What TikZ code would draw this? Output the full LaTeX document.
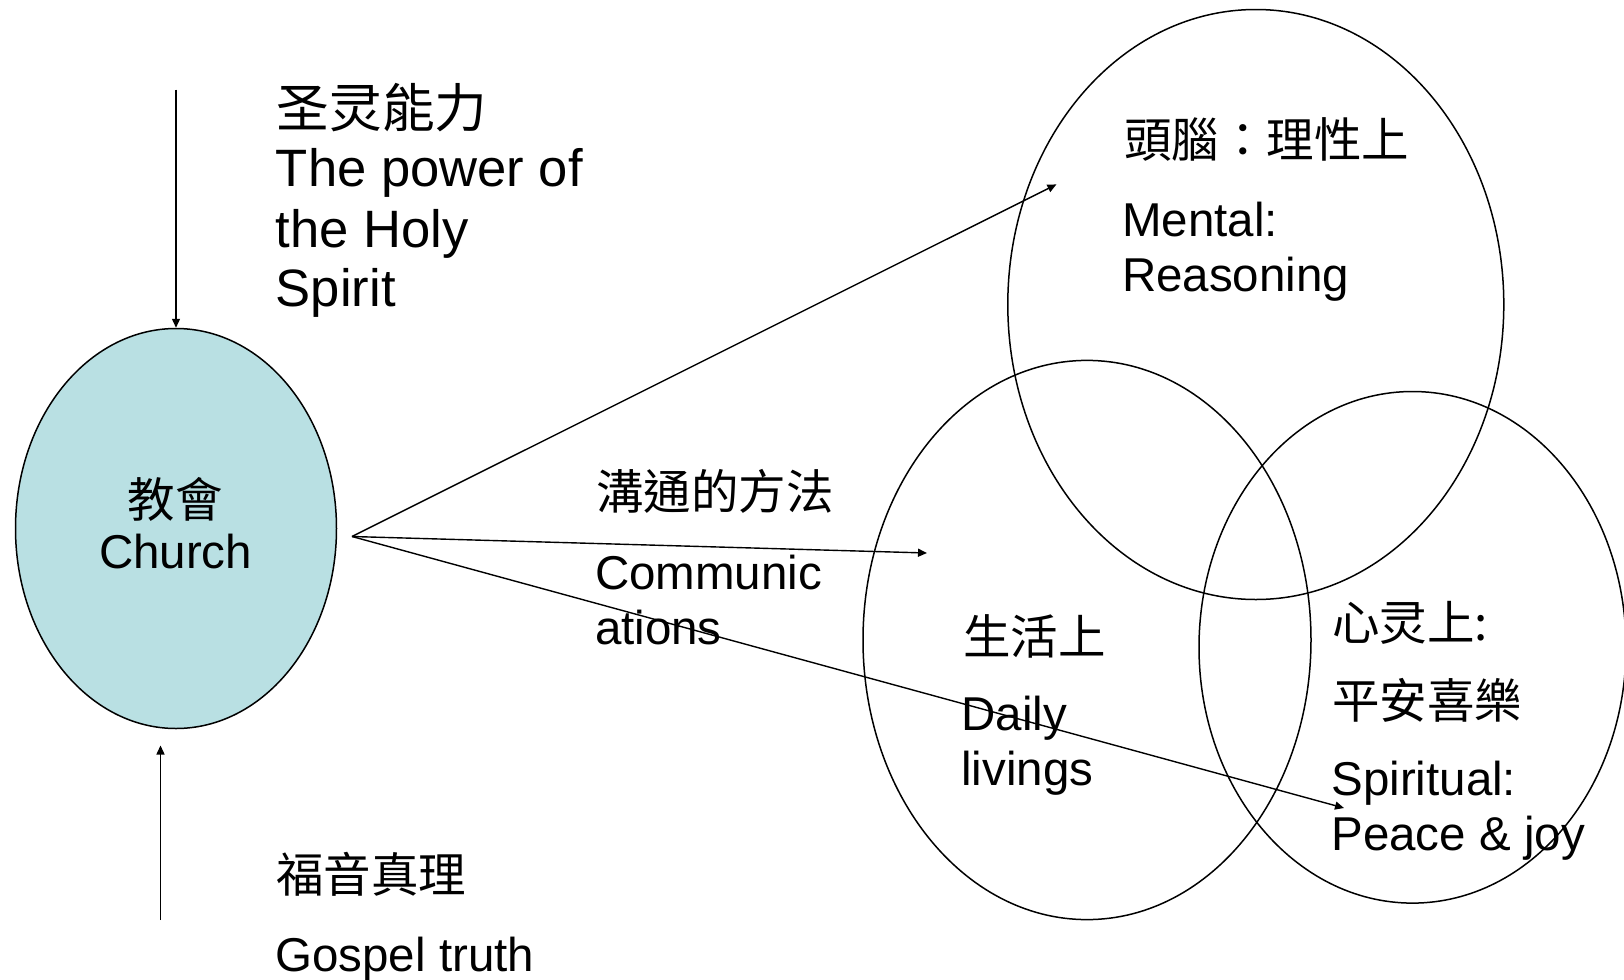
\documentclass[tikz,border=0pt]{standalone}
\usepackage{fontspec}
\setmainfont{Liberation Sans}
\newfontfamily\cjk{Noto Sans CJK TC}
\usetikzlibrary{shapes.geometric,arrows.meta}
\definecolor{churchfill}{RGB}{185,224,227}
\tikzset{
  txt/.style={anchor=base west, inner sep=0pt, font=\fontsize{23.75pt}{27pt}\selectfont},
  bigtxt/.style={anchor=base west, inner sep=0pt, font=\fontsize{26.3pt}{30pt}\selectfont},
  ctxt/.style={txt, font=\fontsize{23.75pt}{27pt}\selectfont\cjk},
  bigctxt/.style={bigtxt, font=\fontsize{26.3pt}{30pt}\selectfont\cjk},
  ring/.style={draw, line width=0.75pt, ellipse, inner sep=0pt},
  conn/.style={line width=0.7pt, -{Triangle[length=4.5pt,width=4pt]}}
}
\begin{document}
\begin{tikzpicture}[x=0.5pt,y=-0.5pt]
\useasboundingbox (0,0) rectangle (1624,980);
\clip (0,0) rectangle (1624,980);

% Venn circles
\node[ring, minimum width=248pt, minimum height=295pt] (mental) at (1255.8,304.5) {};
\node[ring, minimum width=224pt, minimum height=279.6pt] (daily) at (1087,640) {};
\node[ring, minimum width=213.5pt, minimum height=255.8pt] (spirit) at (1412.5,647.3) {};

% Church
\node[ellipse, draw, line width=0.75pt, fill=churchfill, inner sep=0pt,
      minimum width=160.5pt, minimum height=200pt] (church) at (176,528.5) {};
\node[anchor=base, inner sep=0pt, font=\fontsize{23.75pt}{27pt}\selectfont\cjk] (churchzh) at (175,517.5) {教會};
\node[anchor=base, inner sep=0pt, font=\fontsize{23.75pt}{27pt}\selectfont] (churchen) at (175.6,568.5) {Church};

% Holy Spirit text
\node[bigctxt] (hszh) at (276.5,127.8) {圣灵能力};
\node[bigtxt] (hs1) at (275.5,186) {The power of};
\node[bigtxt] (hs2) at (275.5,247) {the Holy};
\node[bigtxt] (hs3) at (275.5,306.5) {Spirit};

% Gospel text
\node[ctxt] (gzh) at (276,892.5) {福音真理};
\node[txt] (gen) at (275,971.5) {Gospel truth};

% Communications text
\node[ctxt] (czh) at (596,509) {溝通的方法};
\node[txt] (c1) at (594.6,589) {Communic};
\node[txt] (c2) at (594.6,644) {ations};

% Mental text
\node[ctxt] (mzh) at (1123.7,157) {頭腦：理性上};
\node[txt] (m1) at (1121.7,236) {Mental:};
\node[txt] (m2) at (1121.7,291) {Reasoning};

% Daily text
\node[ctxt] (dzh) at (963,654) {生活上};
\node[txt] (d1) at (961,730) {Daily};
\node[txt] (d2) at (961,785) {livings};

% Spiritual text
\node[ctxt] (szh1) at (1332,640.5) {心灵上:};
\node[ctxt] (szh2) at (1332,718.5) {平安喜樂};
\node[txt] (s1) at (1331,795.4) {Spiritual:};
\node[txt] (s2) at (1331,850) {Peace \& joy};

% connectors
\coordinate (topstart) at (176,89.5);
\coordinate (botstart) at (160.5,920);
\coordinate (botend) at (160.5,745.5);
\coordinate (hub) at (352,536.5);
\coordinate (t1) at (1056.4,184.4);
\coordinate (t2) at (927,553);
\coordinate (t3) at (1344,808);

\draw[conn] (topstart) -- (church.north);
\draw[conn] (botstart) -- (botend);
\draw[conn] (hub) -- (t1);
\draw[conn] (hub) -- (t2);
\draw[conn] (hub) -- (t3);
\end{tikzpicture}
\end{document}
